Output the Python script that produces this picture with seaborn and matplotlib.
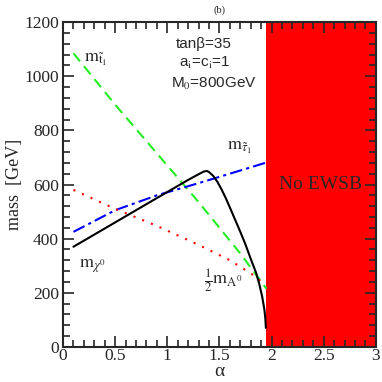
import numpy as np
import pandas as pd
import matplotlib
matplotlib.use("Agg")
import matplotlib.pyplot as plt
from matplotlib.ticker import MultipleLocator
import seaborn as sns

# values
alpha_stop = [0.1, 0.5, 0.9, 1.3, 1.7, 1.95]
m_stop = [1085, 895, 715, 535, 345, 215]

alpha_stau = [0.1, 0.5, 0.9, 1.3, 1.6, 1.94]
m_stau = [425, 505, 560, 605, 640, 680]

alpha_A = [0.1, 0.5, 0.9, 1.3, 1.6, 1.8, 1.93]
half_mA = [580, 510, 447, 377, 320, 272, 232]

alpha_chi = [0.1, 0.5, 0.9, 1.2, 1.3, 1.35, 1.38, 1.4, 1.44, 1.48, 1.52, 1.56, 1.6,
             1.65, 1.7, 1.75, 1.8, 1.85, 1.88, 1.91, 1.93, 1.94, 1.945]
m_chi = [370, 460, 550, 617, 638, 648, 650, 646, 632, 610, 582, 550, 515,
         470, 425, 378, 325, 275, 235, 185, 140, 105, 70]

no_ewsb = [1.95, 3.0]

sns.set_style("ticks")
plt.rcParams["font.family"] = ["Liberation Serif", "DejaVu Serif"]
plt.rcParams["mathtext.fontset"] = "stix"

fig = plt.figure(figsize=(3.82, 3.82), dpi=100)
ax = fig.add_axes([0.165, 0.092, 0.819, 0.850])

ax.axvspan(no_ewsb[0], no_ewsb[1], color="#ff0000", lw=0, zorder=0)

sns.lineplot(x=alpha_stop, y=m_stop, ax=ax, color="#22ee22", lw=1.5, linestyle=(0, (5, 3)))
sns.lineplot(x=alpha_stau, y=m_stau, ax=ax, color="#0000ff", lw=1.5, linestyle=(0, (6, 2, 1.5, 2)))
sns.lineplot(x=alpha_A, y=half_mA, ax=ax, color="#ff0000", lw=1.5, linestyle=(0, (1, 3.5)))
sns.lineplot(x=alpha_chi, y=m_chi, ax=ax, color="black", lw=1.5)

ax.set_xlim(0, 3)
ax.set_ylim(0, 1200)
ax.xaxis.set_major_locator(MultipleLocator(0.5))
ax.xaxis.set_minor_locator(MultipleLocator(0.1))
ax.yaxis.set_major_locator(MultipleLocator(200))
ax.yaxis.set_minor_locator(MultipleLocator(40))
ax.tick_params(which="both", direction="in", top=True, right=True, width=1.2, labelsize=12.5)
ax.tick_params(axis="x", pad=0.5)
ax.tick_params(axis="y", pad=3)
ax.tick_params(which="major", length=8)
ax.tick_params(which="minor", length=5)
ax.set_xticks([0, 0.5, 1, 1.5, 2, 2.5, 3])
ax.set_xticklabels(["0", "0.5", "1", "1.5", "2", "2.5", "3"])
for s in ax.spines.values():
    s.set_linewidth(1.5)
    s.set_zorder(5)

ax.set_xlabel("")
fig.text(0.575, 0.004, "α", ha="center", va="bottom", fontsize=14)
ax.set_ylabel("mass  [GeV]", fontsize=13, labelpad=1)
fig.text(0.575, 0.974, "(b)", ha="center", va="center", fontsize=7.5)

ax.text(2.47, 600, "No EWSB", ha="center", va="center", fontsize=14)

ax.text(1.35, 1120, "tanβ=35", ha="center", va="center", fontsize=11,
        family=["Liberation Sans"])
ax.text(1.36, 1048, r"a$_\mathrm{i}$=c$_\mathrm{i}$=1", ha="center", va="center", fontsize=11,
        family=["Liberation Sans"])
ax.text(1.45, 970, r"M$_0$=800GeV", ha="center", va="center", fontsize=11,
        family=["Liberation Sans"])

ax.text(0.2, 1062, r"$\mathrm{m}_{\tilde{\mathrm{t}}_1}$", fontsize=13, va="center")
ax.text(1.57, 735, r"$\mathrm{m}_{\tilde{\tau}_1}$", fontsize=13, va="center")
ax.text(0.15, 300, r"$\mathrm{m}_{\chi^0}$", fontsize=13, va="center")
ax.text(1.35, 245, r"$\frac{1}{2}\mathrm{m}_{\mathrm{A}^0}$", fontsize=13, va="center")

fig.savefig("out.png", dpi=100)
